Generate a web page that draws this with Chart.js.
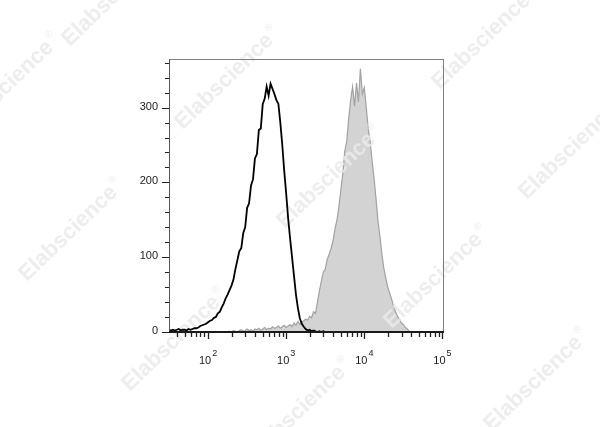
<!DOCTYPE html>
<html>
<head>
<meta charset="utf-8">
<script src="https://cdn.jsdelivr.net/npm/chart.js@4.4.1/dist/chart.umd.min.js"></script>
<style>
    html, body { margin: 0; padding: 0; background: #fff; }
    .wrap { width: 600px; height: 427px; position: relative; }
</style>
</head>
<body>
<div class="wrap"><canvas id="histo"></canvas></div>
<script>
// histogram bins, log10 of the fluorescence channel
const binStart = 1.5;
const binStep = 0.025;

// unstained / isotype (black outline)
const blackCounts = [
    3, 2, 3, 2, 3, 4, 2, 3, 3, 2,
    4, 3, 4, 5, 5, 6, 8, 9, 10, 11,
    13, 15, 16, 19, 20, 25, 27, 33, 38, 45,
    50, 56, 62, 70, 84, 96, 108, 112, 132, 140,
    166, 172, 196, 204, 232, 238, 270, 272, 305, 312,
    328, 316, 332, 325, 318, 310, 305, 280, 250, 215,
    185, 152, 125, 100, 75, 50, 32, 18, 11, 7,
    4, 2, 3, 1, 2, 1, 0, 1, 0, 1,
    0, 0, 0, 0, 0, 0, 0, 0, 0, 0,
    0, 0, 0, 0, 0, 0, 0, 0, 0, 0,
    0, 0, 0, 0, 0, 0, 0, 0, 0, 0,
    0, 0, 0, 0, 0, 0, 0, 0, 0, 0,
    0, 0, 0, 0, 0, 0, 0, 0, 0, 0,
    0, 0, 0, 0, 0, 0, 0, 0, 0, 0,
    0,
];

// stained sample (grey filled)
const greyCounts = [
    0, 0, 0, 0, 0, 0, 0, 0, 0, 0,
    0, 0, 0, 0, 0, 0, 0, 0, 0, 0,
    0, 0, 0, 0, 0, 0, 0, 0, 0, 0,
    0, 1, 0, 2, 1, 0, 2, 3, 1, 2,
    4, 2, 3, 1, 4, 3, 5, 2, 4, 6,
    3, 5, 4, 7, 5, 6, 8, 5, 7, 9,
    6, 8, 10, 7, 12, 9, 14, 10, 13, 15,
    17, 16, 21, 19, 27, 25, 40, 55, 68, 80,
    84, 97, 104, 112, 122, 138, 150, 168, 190, 212,
    242, 255, 285, 310, 328, 302, 333, 308, 352, 318,
    327, 300, 272, 254, 228, 205, 178, 148, 128, 104,
    85, 72, 60, 52, 44, 34, 27, 21, 17, 12,
    10, 6, 4, 1, 0, 0, 0, 0, 0, 0,
    0, 0, 0, 0, 0, 0, 0, 0, 0, 0,
    0,
];

const yTicks = [0, 100, 200, 300];
const yMinorStep = 20;
const xDecades = [2, 3, 4, 5];
const xMinorMult = [2, 3, 4, 5, 6, 7, 8, 9];

const watermarks = [
    [115, -5], [8, 85], [228, 78], [485, 38], [72, 230], [330, 177],
    [572, 148], [175, 340], [437, 277], [300, 410], [537, 380],
];

const toPoints = (counts) => counts.map((c, i) => ({ x: binStart + i * binStep, y: c }));

const FONT = "'Liberation Sans', Arial, sans-serif";

const watermarkPlugin = {
    id: "watermark",
    afterDatasetDraw(chart, args) {
        if (args.index !== 1) return;
        const { ctx } = chart;
        ctx.save();
        ctx.fillStyle = "rgba(234, 234, 234, 0.85)";
        watermarks.forEach(([cx, cy]) => {
            ctx.save();
            ctx.translate(cx, cy);
            ctx.rotate(-44 * Math.PI / 180);
            ctx.font = `bold 22px ${FONT}`;
            ctx.textBaseline = "middle";
            const w = ctx.measureText("Elabscience").width;
            ctx.fillText("Elabscience", -w / 2 - 5, 0);
            ctx.font = `10px ${FONT}`;
            ctx.fillText("®", w / 2 - 3, -8);
            ctx.restore();
        });
        ctx.restore();
    },
};

const axesPlugin = {
    id: "flowAxes",
    afterDraw(chart) {
        const { ctx, chartArea: a, scales: { x, y } } = chart;
        ctx.save();

        // frame
        ctx.strokeStyle = "#808080";
        ctx.lineWidth = 1;
        ctx.strokeRect(a.left + 0.5, a.top + 0.5, a.right - a.left - 1, a.bottom - a.top);
        ctx.strokeStyle = "#555";
        ctx.beginPath();
        ctx.moveTo(a.left + 0.5, a.top);
        ctx.lineTo(a.left + 0.5, a.bottom);
        ctx.stroke();
        ctx.strokeStyle = "#1a1a1a";
        ctx.lineWidth = 2;
        ctx.beginPath();
        ctx.moveTo(a.left, a.bottom);
        ctx.lineTo(a.right, a.bottom);
        ctx.stroke();

        // y ticks
        ctx.strokeStyle = "#222";
        ctx.lineWidth = 1;
        ctx.beginPath();
        for (let v = 0; v <= y.max; v += yMinorStep) {
            const py = Math.round(y.getPixelForValue(v)) + 0.5;
            const len = yTicks.includes(v) ? 7 : 4;
            ctx.moveTo(a.left - len, py);
            ctx.lineTo(a.left, py);
        }
        ctx.stroke();

        ctx.fillStyle = "#1a1a1a";
        ctx.font = `11px ${FONT}`;
        ctx.textAlign = "right";
        ctx.textBaseline = "middle";
        yTicks.forEach((v) => ctx.fillText(String(v), a.left - 11, y.getPixelForValue(v) - 1));

        // x ticks (log decades)
        ctx.beginPath();
        xDecades.forEach((d) => {
            const px = Math.round(x.getPixelForValue(d)) + 0.5;
            ctx.moveTo(px, a.bottom);
            ctx.lineTo(px, a.bottom + 7);
        });
        [1, 2, 3, 4].forEach((d) => {
            xMinorMult.forEach((m) => {
                const lv = d + Math.log10(m);
                if (lv < x.min || lv > x.max) return;
                const px = Math.round(x.getPixelForValue(lv)) + 0.5;
                ctx.moveTo(px, a.bottom + 1);
                ctx.lineTo(px, a.bottom + 5);
            });
        });
        ctx.lineWidth = 1.3;
        ctx.stroke();

        // x labels: 10 with superscript exponent
        ctx.textAlign = "left";
        ctx.textBaseline = "alphabetic";
        xDecades.forEach((d) => {
            const px = x.getPixelForValue(d);
            ctx.font = `11px ${FONT}`;
            const wb = ctx.measureText("10").width;
            ctx.font = `9px ${FONT}`;
            const we = ctx.measureText(String(d)).width;
            const left = px - (wb + we + 1) / 2;
            ctx.font = `11px ${FONT}`;
            ctx.fillText("10", left, 364);
            ctx.font = `9px ${FONT}`;
            ctx.fillText(String(d), left + wb + 1, 356);
        });

        ctx.restore();
    },
};

new Chart(document.getElementById("histo"), {
    type: "line",
    data: {
        datasets: [
            {
                label: "Control",
                data: toPoints(blackCounts),
                borderColor: "#000",
                borderWidth: 1.8,
                pointRadius: 0,
                fill: false,
                tension: 0,
            },
            {
                label: "Stained",
                data: toPoints(greyCounts),
                borderColor: "#a2a2a2",
                borderWidth: 1.2,
                backgroundColor: "#d3d3d3",
                pointRadius: 0,
                fill: "origin",
                tension: 0,
            },
        ],
    },
    options: {
        responsive: true,
        maintainAspectRatio: false,
        animation: false,
        layout: { padding: { left: 169, right: 156, top: 59, bottom: 95 } },
        plugins: { legend: { display: false }, tooltip: { enabled: false } },
        scales: {
            x: { type: "linear", min: 1.5, max: 5.02, display: false },
            y: { min: 0, max: 365, display: false },
        },
    },
    plugins: [watermarkPlugin, axesPlugin],
});
</script>
</body>
</html>
